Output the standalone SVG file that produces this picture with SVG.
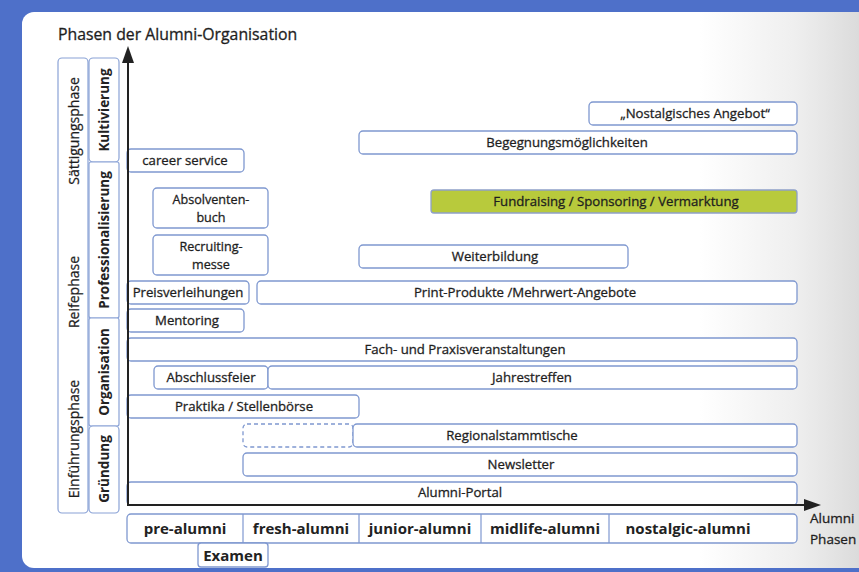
<svg xmlns="http://www.w3.org/2000/svg" width="859" height="572" viewBox="0 0 859 572">
<defs>
<linearGradient id="haze" x1="0" y1="0" x2="1" y2="0">
<stop offset="0" stop-color="#d6d6d6" stop-opacity="0"/>
<stop offset="0.6" stop-color="#d6d6d6" stop-opacity="0.4"/>
<stop offset="1" stop-color="#d2d2d2" stop-opacity="0.8"/>
</linearGradient>
<style>
.bx{fill:#ffffff;stroke:#7f98d0;stroke-width:1.3}
.dash{fill:#ffffff;stroke:#7f98d0;stroke-width:1.3;stroke-dasharray:4 3}
.green{fill:#b8ca3c;stroke:#8ea0c8;stroke-width:1.3}
.col{fill:#ffffff;stroke:#8aa2d6;stroke-width:1.2}
.t{font-family:"Open Sans","Noto Sans","Liberation Sans",sans-serif;font-size:13.2px;fill:#1e1e1e;stroke:#1e1e1e;stroke-width:0.3;text-anchor:middle}
.t2{font-family:"Open Sans","Noto Sans","Liberation Sans",sans-serif;font-size:12.6px;fill:#1e1e1e;stroke:#1e1e1e;stroke-width:0.3;text-anchor:middle}
.tb{font-family:"Open Sans","Noto Sans","Liberation Sans",sans-serif;font-size:15px;font-weight:bold;fill:#222;text-anchor:middle}
.ph{font-family:"Open Sans","Noto Sans","Liberation Sans",sans-serif;font-size:14px;fill:#1e1e1e;stroke:#1e1e1e;stroke-width:0.25;text-anchor:middle;dominant-baseline:central}
.phb{font-family:"Open Sans","Noto Sans","Liberation Sans",sans-serif;font-size:13.5px;font-weight:bold;fill:#222;text-anchor:middle;dominant-baseline:central}
.ax{stroke:#222;stroke-width:2;fill:none}
.lbl{font-family:"Open Sans","Noto Sans","Liberation Sans",sans-serif;fill:#1e1e1e;stroke:#1e1e1e;stroke-width:0.3}
</style>
</defs>
<rect x="0" y="0" width="859" height="572" fill="#4e70c9"/>
<rect x="22" y="12" width="900" height="556" rx="12" fill="#ffffff"/>
<rect x="700" y="12" width="159" height="556" fill="url(#haze)"/>
<text class="lbl" x="58" y="40" font-size="15.8">Phasen der Alumni-Organisation</text>

<g id="phase-outer">
<rect class="col" x="58" y="58" width="30" height="455" rx="4"/>
<text class="ph" transform="translate(73 131) rotate(-90)">Sättigungsphase</text>
<text class="ph" transform="translate(73 292) rotate(-90)">Reifephase</text>
<text class="ph" transform="translate(73 439) rotate(-90)">Einführungsphase</text>
</g>
<g id="phase-kultivierung">
<rect class="col" x="89" y="58" width="30" height="104" rx="4"/>
<text class="phb" transform="translate(104 110) rotate(-90)">Kultivierung</text>
</g>
<g id="phase-professionalisierung">
<rect class="col" x="89" y="162" width="30" height="156" rx="2"/>
<text class="phb" transform="translate(104 240) rotate(-90)">Professionalisierung</text>
</g>
<g id="phase-organisation">
<rect class="col" x="89" y="318" width="30" height="108" rx="2"/>
<text class="phb" transform="translate(104 372) rotate(-90)">Organisation</text>
</g>
<g id="phase-gruendung">
<rect class="col" x="89" y="426" width="30" height="87" rx="4"/>
<text class="phb" transform="translate(104 469) rotate(-90)">Gründung</text>
</g>

<g id="nostalgisch"><rect class="bx" x="589" y="102" width="208" height="23" rx="4"/><text class="t" x="695" y="118">„Nostalgisches Angebot“</text></g>
<g id="begegnung"><rect class="bx" x="359" y="131" width="438" height="23" rx="4"/><text class="t" x="567" y="147">Begegnungsmöglichkeiten</text></g>
<g id="career"><rect class="bx" x="127" y="149" width="117" height="23" rx="4"/><text class="t" x="185" y="165">career service</text></g>
<g id="absolventen"><rect class="bx" x="153" y="188" width="115" height="40" rx="4"/><text class="t2" x="211" y="204">Absolventen-</text><text class="t2" x="211" y="221.5">buch</text></g>
<g id="fundraising"><rect class="green" x="431" y="190" width="366" height="23" rx="3"/><text class="t" x="616" y="206">Fundraising / Sponsoring / Vermarktung</text></g>
<g id="recruiting"><rect class="bx" x="153" y="235" width="115" height="40" rx="4"/><text class="t2" x="211" y="251">Recruiting-</text><text class="t2" x="211" y="268.5">messe</text></g>
<g id="weiterbildung"><rect class="bx" x="359" y="245" width="269" height="23" rx="4"/><text class="t" x="495" y="261">Weiterbildung</text></g>
<g id="preis"><rect class="bx" x="127" y="281" width="122" height="23" rx="4"/><text class="t" x="188" y="297">Preisverleihungen</text></g>
<g id="print"><rect class="bx" x="257" y="281" width="540" height="23" rx="4"/><text class="t" x="525" y="297">Print-Produkte /Mehrwert-Angebote</text></g>
<g id="mentoring"><rect class="bx" x="127" y="309" width="117" height="23" rx="4"/><text class="t" x="187" y="325">Mentoring</text></g>
<g id="fach"><rect class="bx" x="127" y="338" width="670" height="23" rx="4"/><text class="t" x="465" y="354">Fach- und Praxisveranstaltungen</text></g>
<g id="abschluss"><rect class="bx" x="154" y="366" width="114" height="23" rx="4"/><text class="t" x="211" y="382">Abschlussfeier</text></g>
<g id="jahrestreffen"><rect class="bx" x="268" y="366" width="529" height="23" rx="4"/><text class="t" x="532" y="382">Jahrestreffen</text></g>
<g id="praktika"><rect class="bx" x="127" y="395" width="232" height="23" rx="4"/><text class="t" x="244" y="411">Praktika / Stellenbörse</text></g>
<g id="leer"><rect class="dash" x="243" y="424" width="110" height="23" rx="4"/></g>
<g id="regional"><rect class="bx" x="353" y="424" width="444" height="23" rx="4"/><text class="t" x="512" y="440">Regionalstammtische</text></g>
<g id="newsletter"><rect class="bx" x="243" y="453" width="554" height="23" rx="4"/><text class="t" x="521" y="469">Newsletter</text></g>
<g id="portal"><rect class="bx" x="127" y="482" width="670" height="23" rx="4"/><text class="t" x="460" y="497">Alumni-Portal</text></g>

<g id="connectors">
<line class="ax" x1="128" y1="505" x2="128" y2="60"/>
<polygon points="128,46 122,63 134,63" fill="#222"/>
<line class="ax" x1="127" y1="505" x2="806" y2="505"/>
<polygon points="821,505 804,499 804,511" fill="#222"/>
</g>

<g id="alumni-phasen">
<rect class="bx" x="127" y="514" width="670" height="29" rx="4"/>
<line x1="243" y1="514" x2="243" y2="543" stroke="#7f98d0" stroke-width="1.2"/>
<line x1="359" y1="514" x2="359" y2="543" stroke="#7f98d0" stroke-width="1.2"/>
<line x1="481" y1="514" x2="481" y2="543" stroke="#7f98d0" stroke-width="1.2"/>
<line x1="609" y1="514" x2="609" y2="543" stroke="#7f98d0" stroke-width="1.2"/>
<text class="tb" x="185" y="534">pre-alumni</text>
<text class="tb" x="301" y="534">fresh-alumni</text>
<text class="tb" x="420" y="534">junior-alumni</text>
<text class="tb" x="545" y="534">midlife-alumni</text>
<text class="tb" x="688" y="534">nostalgic-alumni</text>
</g>
<g id="examen"><rect class="bx" x="198" y="543" width="70" height="24" rx="3"/><text class="tb" x="233" y="561">Examen</text></g>
<g id="achse-label">
<text class="lbl" x="810" y="523" font-size="13.5">Alumni</text>
<text class="lbl" x="810" y="544" font-size="13.5">Phasen</text>
</g>
</svg>
